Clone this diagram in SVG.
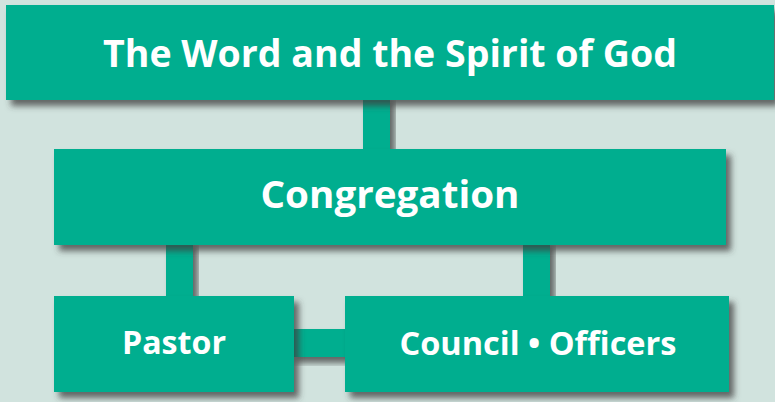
<svg xmlns="http://www.w3.org/2000/svg" width="775" height="402" viewBox="0 0 775 402">
<defs>
<filter id="sh" x="-10%" y="-20%" width="130%" height="150%">
<feDropShadow dx="5" dy="6" stdDeviation="3" flood-color="#3c3c3c" flood-opacity="0.75"/>
</filter>
<style>
.box{fill:#00ae8f;filter:url(#sh);}
.bar{fill:#00ae8f;}
.lbl{font-family:"Open Sans","Noto Sans",sans-serif;font-weight:bold;fill:#ffffff;text-anchor:middle;}
</style>
</defs>
<rect width="775" height="402" fill="#d1e3de"/>
<g id="connectors">
<rect class="bar box" x="363" y="95" width="27" height="60"/>
<rect class="bar box" x="166" y="240" width="27" height="60"/>
<rect class="bar box" x="523" y="240" width="27" height="60"/>
<rect class="bar box" x="290" y="329" width="60" height="28"/>
</g>
<g id="node-word">
<rect class="box" x="6" y="5" width="768" height="95"/>
<text class="lbl" x="390" y="67" font-size="38" textLength="574" lengthAdjust="spacingAndGlyphs">The Word and the Spirit of God</text>
</g>
<g id="node-congregation">
<rect class="box" x="54" y="149" width="672" height="96"/>
<text class="lbl" x="390" y="208" font-size="37" textLength="259" lengthAdjust="spacingAndGlyphs">Congregation</text>
</g>
<g id="node-pastor">
<rect class="box" x="54" y="296" width="240" height="96"/>
<text class="lbl" x="174" y="354" font-size="33" textLength="104" lengthAdjust="spacingAndGlyphs">Pastor</text>
</g>
<g id="node-council">
<rect class="box" x="345" y="296" width="384" height="96"/>
<text class="lbl" x="538" y="355" font-size="33" textLength="277" lengthAdjust="spacingAndGlyphs">Council • Officers</text>
</g>
</svg>
